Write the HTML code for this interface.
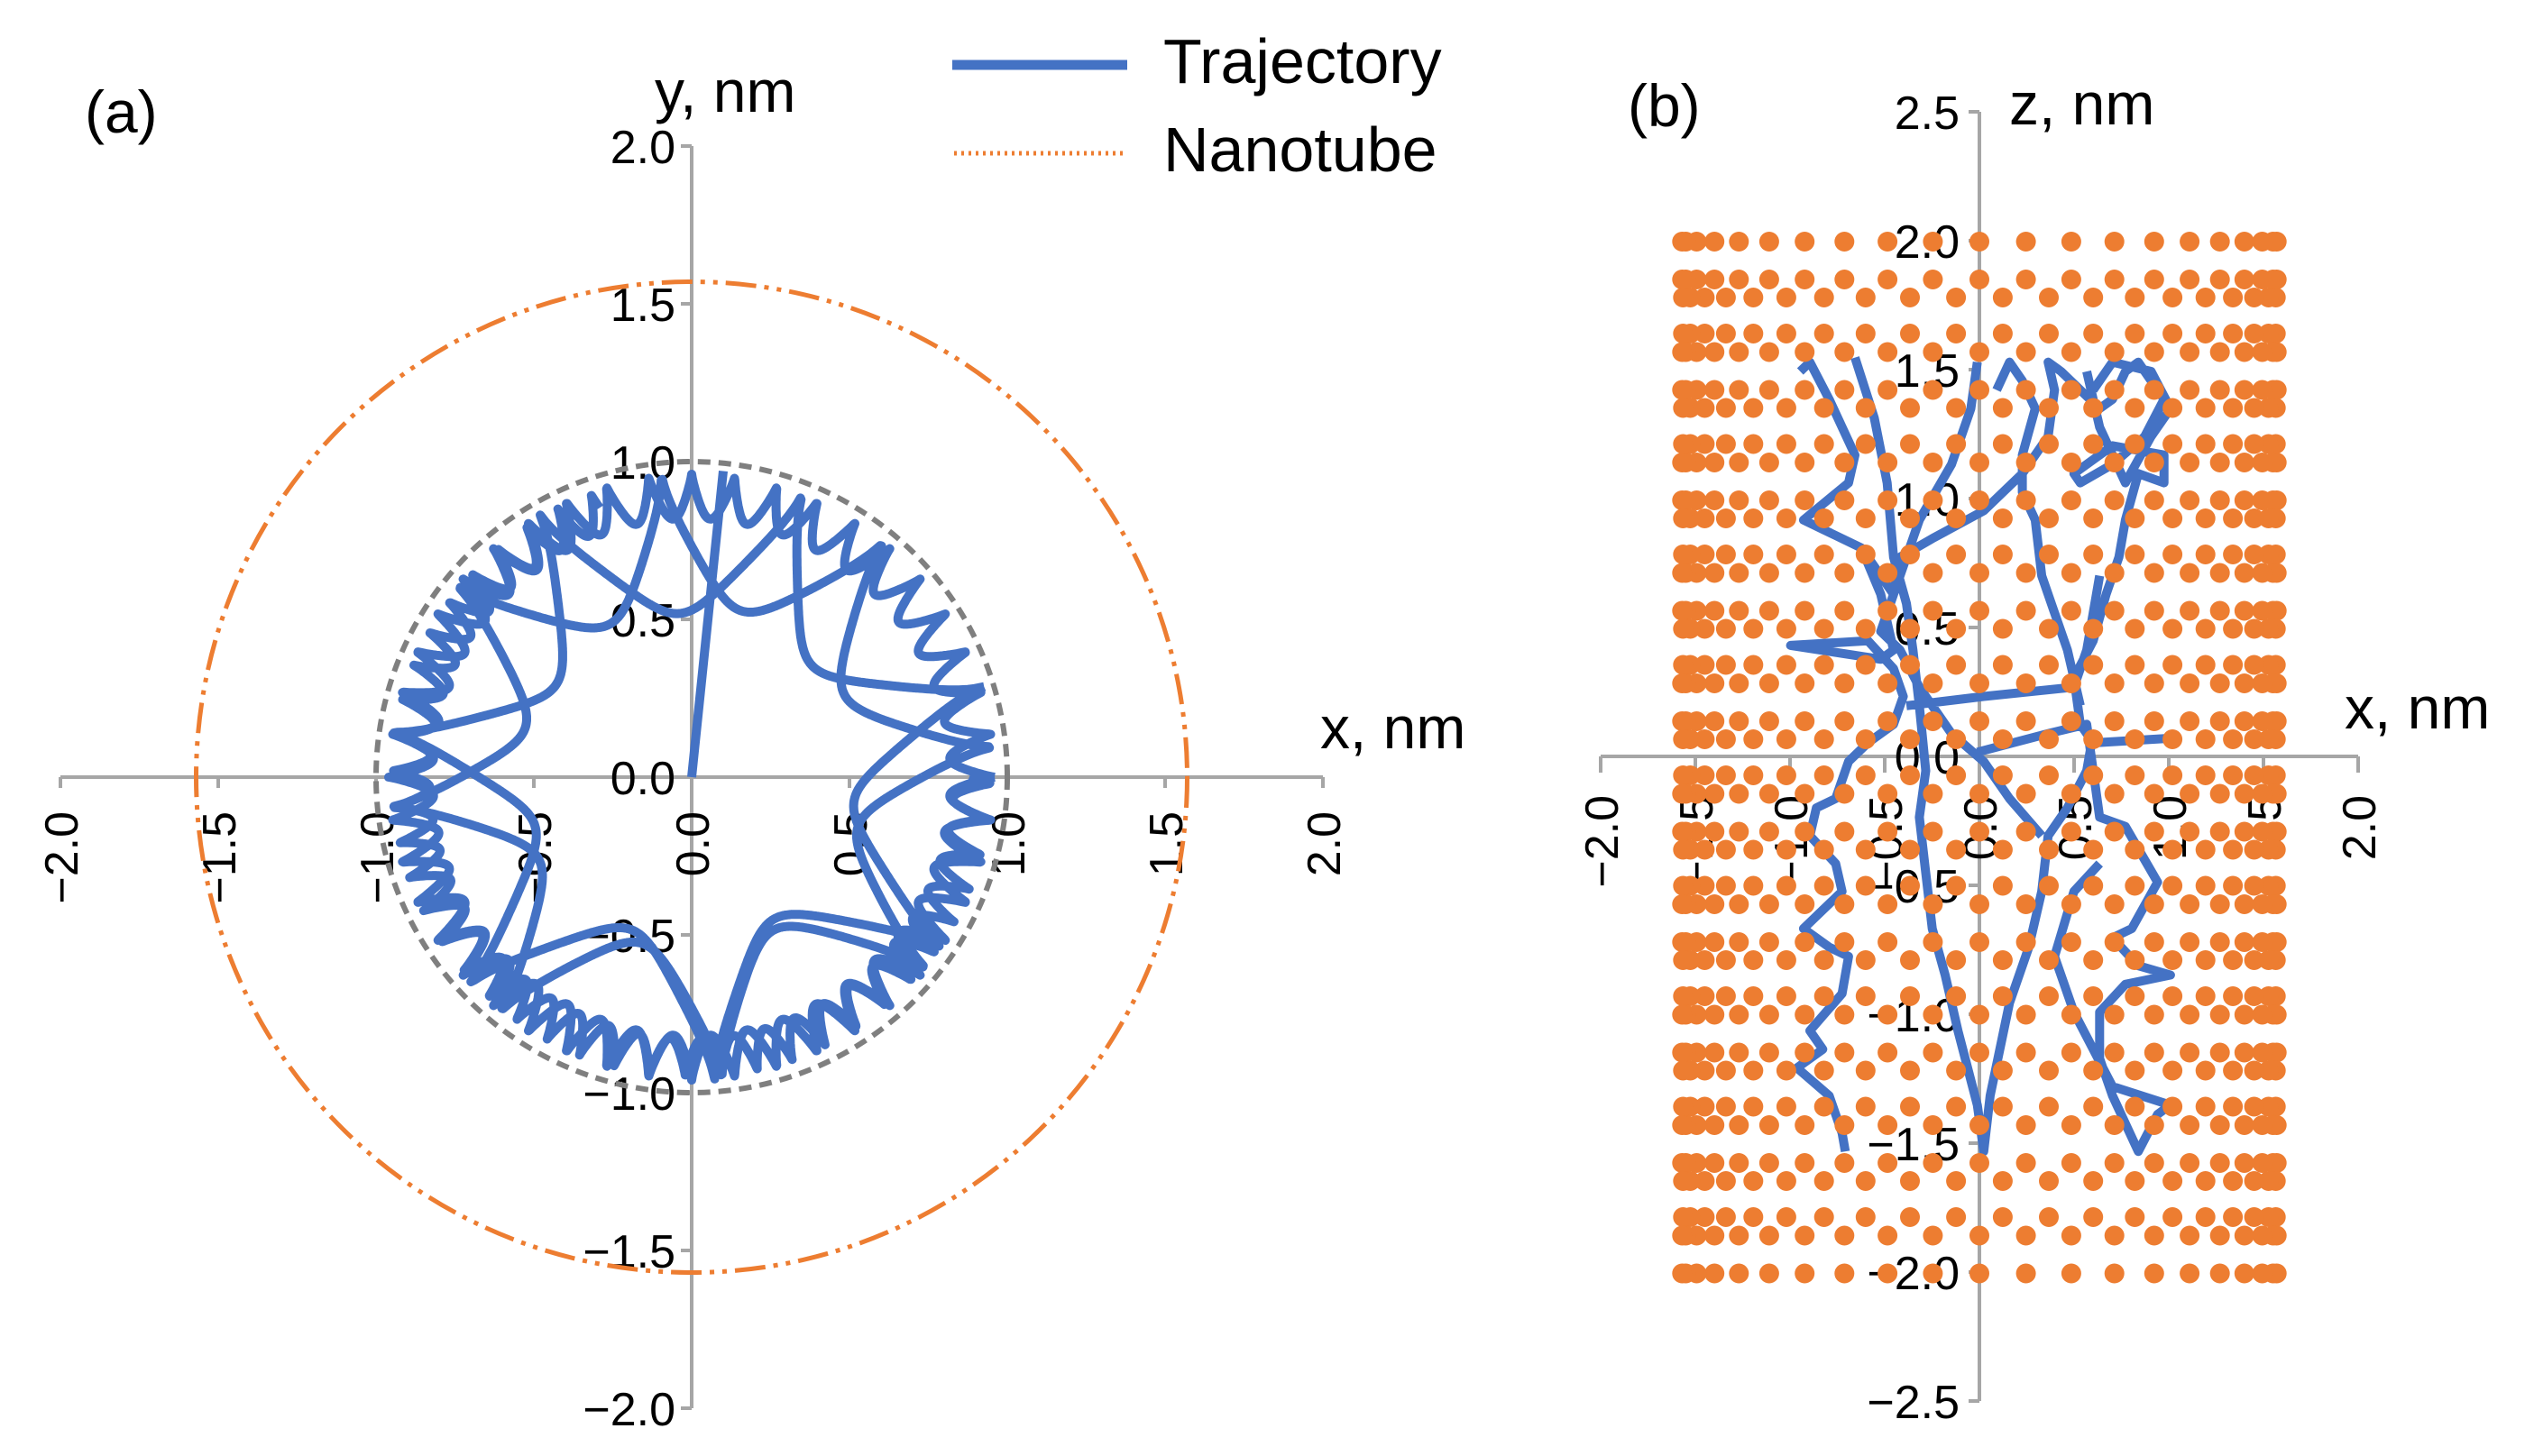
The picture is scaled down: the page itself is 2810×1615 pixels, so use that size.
<!DOCTYPE html>
<html><head><meta charset="utf-8"><style>
html,body{margin:0;padding:0;background:#fff}
svg{display:block}
text{font-family:"Liberation Sans",sans-serif;fill:#000}
</style></head><body>
<svg id="s" width="2810" height="1615" viewBox="0 0 2810 1615" xmlns="http://www.w3.org/2000/svg">
<g id="a"></g>
<g id="b"></g>
<line x1="1056" y1="72" x2="1250" y2="72" stroke="#4472C4" stroke-width="11"/>
<text x="1290" y="92" font-size="70">Trajectory</text>
<line x1="1058" y1="170" x2="1248" y2="170" stroke="#ED7D31" stroke-width="5" stroke-dasharray="3 5"/>
<text x="1290" y="190" font-size="70">Nanotube</text>
<text x="94" y="147" font-size="66">(a)</text>
<text x="726" y="124" font-size="66">y, nm</text>
<text x="1464" y="830" font-size="66">x, nm</text>
<text x="1805" y="140" font-size="66">(b)</text>
<text x="2228" y="138" font-size="66">z, nm</text>
<text x="2600" y="808" font-size="66">x, nm</text>
</svg>
<script>
var NS="http://www.w3.org/2000/svg";
function el(p,t,a,txt){var e=document.createElementNS(NS,t);for(var k in a)e.setAttribute(k,a[k]);if(txt!==undefined)e.textContent=txt;p.appendChild(e);return e;}
var A=document.getElementById('a'),B=document.getElementById('b');
var ox=767,oy=862,u=350;
function X(v){return ox+v*u}function Y(v){return oy-v*u}
el(A,'line',{x1:X(-2),y1:oy,x2:X(2),y2:oy,stroke:'#a6a6a6','stroke-width':4});
el(A,'line',{x1:ox,y1:Y(2),x2:ox,y2:Y(-2),stroke:'#a6a6a6','stroke-width':4});
for(var i=-4;i<=4;i++){var v=i/2;
 el(A,'line',{x1:X(v),y1:oy,x2:X(v),y2:oy+12,stroke:'#a6a6a6','stroke-width':4});
 el(A,'line',{x1:ox-12,y1:Y(v),x2:ox,y2:Y(v),stroke:'#a6a6a6','stroke-width':4});
 var s=(v<0?'\u2212':'')+Math.abs(v).toFixed(1);
 el(A,'text',{x:ox-18,y:Y(v)+19,'font-size':52,'text-anchor':'end'},s);
 el(A,'text',{transform:'translate('+(X(v)+19)+',900) rotate(-90)','font-size':52,'text-anchor':'end'},s);
}
el(A,'circle',{cx:ox,cy:oy,r:1.57*u,fill:'none',stroke:'#ED7D31','stroke-width':5,'stroke-dasharray':'34 9 5 9 5 9'});
el(A,'circle',{cx:ox,cy:oy,r:u,fill:'none',stroke:'#7f7f7f','stroke-width':6,'stroke-dasharray':'14 9'});
function arches(rmax,depth,n,p,th0,th1,phase,steps){var d='';for(var i=0;i<=steps;i++){var th=th0+(th1-th0)*i/steps;
 var r=rmax-depth*Math.pow(Math.abs(Math.sin(n*(th-phase)/2)),p);
 d+=(i?'L':'M')+X(r*Math.cos(th)).toFixed(1)+' '+Y(r*Math.sin(th)).toFixed(1);}return d;}
var tr='M'+X(0)+' '+Y(0)+'L'+X(0.1)+' '+Y(0.97);
tr+=arches(0.97,0.42,8,0.6,0,2*Math.PI,Math.PI/2+0.1,1600);
tr+=arches(0.97,0.45,7,0.6,0.3,2*Math.PI+0.3,0.3,1600);
tr+=arches(0.96,0.14,44,0.8,0,2*Math.PI,0,3000);
tr+=arches(0.95,0.12,52,0.8,1.9,2*Math.PI,0.1,2400);
el(A,'path',{d:tr,fill:'none',stroke:'#4472C4','stroke-width':10,'stroke-linejoin':'round'});
var bx=2195,by=839,ux=210,uz=286;
function BX(v){return bx+v*ux}function BY(v){return by-v*uz}
el(B,'line',{x1:BX(-2),y1:by,x2:BX(2),y2:by,stroke:'#a6a6a6','stroke-width':4});
el(B,'line',{x1:bx,y1:BY(2.5),x2:bx,y2:BY(-2.5),stroke:'#a6a6a6','stroke-width':4});
for(var i=-4;i<=4;i++){var v=i/2;
 el(B,'line',{x1:BX(v),y1:by,x2:BX(v),y2:by+18,stroke:'#a6a6a6','stroke-width':4});
 var s=(v<0?'\u2212':'')+Math.abs(v).toFixed(1);
 el(B,'text',{transform:'translate('+(BX(v)+19)+',882) rotate(-90)','font-size':52,'text-anchor':'end'},s);}
for(var i=-5;i<=5;i++){var v=i/2;
 el(B,'line',{x1:bx-12,y1:BY(v),x2:bx,y2:BY(v),stroke:'#a6a6a6','stroke-width':4});
 var s=(v<0?'\u2212':'')+Math.abs(v).toFixed(1);
 el(B,'text',{x:bx-22,y:BY(v)+19,'font-size':52,'text-anchor':'end'},s);}
var pl=[
[[415,400],[430,390],[460,430],[500,490],[490,520],[420,560],[450,570],[510,590],[540,640],[560,700],[540,710],[400,695],[520,690],[560,720],[575,750],[560,780],[520,800],[490,820],[470,860],[440,870],[430,900],[470,930],[480,960],[450,980],[420,1000],[460,1020],[490,1030],[480,1070],[430,1110],[450,1130],[410,1150],[460,1180],[480,1220],[485,1240]],
[[500,385],[530,450],[550,520],[560,600],[580,650],[590,700],[600,760],[610,830],[600,880],[610,940],[620,1000],[640,1050],[660,1110],[690,1190],[700,1240],[710,1180],[740,1080],[770,1020],[790,960],[800,900],[830,870],[860,830],[870,790]],
[[690,390],[680,440],[650,500],[600,560],[580,600],[560,640],[570,600],[620,580],[700,550],[760,510],[800,470],[810,420],[800,390],[820,400],[850,420],[880,440],[900,430],[920,400],[940,390],[960,410],[980,430],[950,470],[900,500],[850,520],[840,510],[900,480],[980,490],[980,520],[940,510],[920,560],[910,600],[890,640],[870,690],[840,730],[850,780],[870,800],[990,795]],
[[690,810],[800,790],[860,780],[870,830],[880,880],[920,890],[970,950],[930,1000],[900,1010],[940,1040],[990,1050],[920,1060],[880,1090],[880,1140],[900,1180],[940,1240],[970,1200],[990,1190],[900,1170],[840,1090],[810,1030],[840,960],[880,930]],
[[580,760],[700,750],[840,740],[860,700],[870,660],[880,620]],
[[720,420],[740,390],[760,410],[780,440],[760,490],[760,530],[780,560],[790,620],[810,660],[830,700],[850,760]],
[[860,400],[880,460],[920,520],[960,470],[990,440],[960,400],[900,390],[870,420]],
[[520,600],[560,640],[540,680],[570,700],[600,740],[650,790],[700,820],[740,860],[790,900]]
];
var d='';pl.forEach(function(p){p.forEach(function(q,i){d+=(i?'L':'M')+(1700+q[0]*0.714).toFixed(1)+' '+(q[1]*1.03).toFixed(1);});});
el(B,'path',{d:d,fill:'none',stroke:'#4472C4','stroke-width':10,'stroke-linejoin':'round'});
var N=40,R=1.57,per=122.5,offs=[[0,0],[42,0],[62,1],[102,1]];
var g=el(B,'g',{fill:'#ED7D31'});
for(var k=0;k<12;k++){offs.forEach(function(o){var y=268+k*per+o[0];if(y>1413)return;
 var seen={};for(var j=0;j<N;j++){var th=2*Math.PI*(j+0.5*o[1])/N;var x=BX(R*Math.cos(th));var key=Math.round(x);if(seen[key])continue;seen[key]=1;
 el(g,'circle',{cx:x.toFixed(1),cy:y.toFixed(1),r:11});}});}
</script>
</body></html>
